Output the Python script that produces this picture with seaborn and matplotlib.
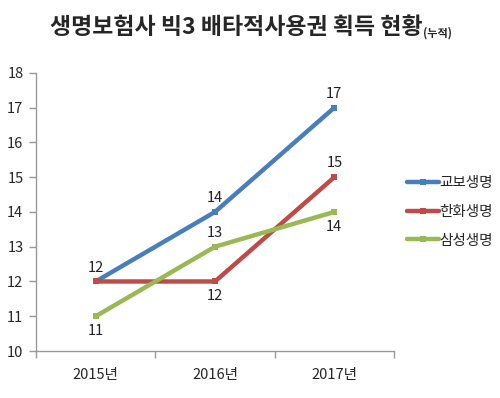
import pandas as pd
import numpy as np
import matplotlib
matplotlib.use("Agg")
import matplotlib.pyplot as plt
import seaborn as sns

# ==========================
#  Datos
# ==========================
years = ["2015년", "2016년", "2017년"]
kyobo = [12, 14, 17]
hanwha = [12, 12, 15]
samsung = [11, 13, 14]
companies = ["교보생명", "한화생명", "삼성생명"]
colors = ["#4A7EBB", "#BE4B48", "#98B954"]
# posición de la etiqueta: arriba (+1) o abajo (-1)
label_pos = {
    "교보생명": [1, 1, 1],
    "한화생명": [1, -1, 1],
    "삼성생명": [-1, 1, -1],
}

df = pd.DataFrame({
    "year": years * 3,
    "idx": list(range(3)) * 3,
    "value": kyobo + hanwha + samsung,
    "company": [c for c in companies for _ in years],
})

# ==========================
#  Configuración visual
# ==========================
sns.set_theme(style="white")
plt.rcParams["font.family"] = ["Noto Sans CJK KR", "DejaVu Sans"]

fig = plt.figure(figsize=(5, 3.98), dpi=100)
ax = fig.add_axes([0.072, 0.118, 0.716, 0.699])

sns.lineplot(data=df, x="idx", y="value", hue="company", hue_order=companies,
             palette=colors, marker="s", markersize=4.2, markeredgewidth=0,
             linewidth=3.2, ax=ax)

for comp in companies:
    sub = df[df["company"] == comp]
    for i, (x, y) in enumerate(zip(sub["idx"], sub["value"])):
        pos = label_pos[comp][i]
        if comp == "한화생명" and i == 0:
            continue  # la etiqueta coincide con la de 교보생명
        ax.annotate(str(y), (x, y), xytext=(0, 5 if pos > 0 else -5.5),
                    textcoords="offset points",
                    ha="center", va="bottom" if pos > 0 else "top", fontsize=10.5,
                    color="#222222")

ax.set_xlim(-0.5, 2.5)
ax.set_ylim(10, 18)
ax.set_yticks(range(10, 19))
ax.set_xticks([0, 1, 2])
ax.set_xticklabels(years)
ax.set_xticks([-0.5, 0.5, 1.5, 2.5], minor=True)
ax.tick_params(axis="x", which="major", bottom=False, length=0, pad=12, labelsize=10.5)
ax.tick_params(axis="x", which="minor", bottom=True, length=5, width=1,
               color="#999999", direction="out")
ax.tick_params(axis="y", left=True, length=5, width=1, color="#999999",
               direction="out", labelsize=10.5, pad=4)
ax.set_xlabel("")
ax.set_ylabel("")
for s in ["top", "right"]:
    ax.spines[s].set_visible(False)
for s in ["left", "bottom"]:
    ax.spines[s].set_color("#999999")
    ax.spines[s].set_linewidth(1)

ax.legend(loc="center left", bbox_to_anchor=(1.0, 0.5), frameon=False,
          fontsize=10.5, handlelength=2.2, handletextpad=0.0, labelspacing=1.0)

fig.text(0.845, 0.93, "생명보험사 빅3 배타적사용권 획득 현황", ha="right", va="center",
         fontsize=16.5, fontweight="bold")
fig.text(0.846, 0.918, "(누적)", ha="left", va="center", fontsize=8, fontweight="bold")

plt.savefig("out.png", dpi=100)
